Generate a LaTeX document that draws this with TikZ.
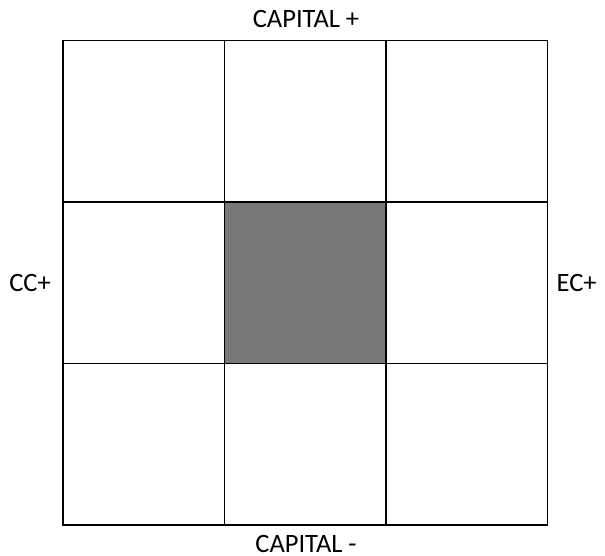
\documentclass[tikz,border=0pt]{standalone}
\usepackage{fontspec}
\setmainfont{Carlito}
\usetikzlibrary{positioning}

\begin{document}
\begin{tikzpicture}[
  x=1pt, y=-1pt,
  font=\fontsize{26.5}{30}\selectfont,
  cell/.style={draw, line width=1.2pt, minimum size=161.5pt, inner sep=0pt, outer sep=0pt},
  core/.style={cell, fill=black!53},
  lbl/.style={inner sep=0pt}
]
\useasboundingbox (0,0) rectangle (605,556);
\foreach \r in {1,2,3} {
  \foreach \c in {1,2,3} {
    \node[cell] (c-\r-\c) at ({63+161.5*(\c-0.5)},{40.5+161.5*(\r-0.5)}) {};
  }
}
\node[core] (mid) at (c-2-2) {};
\node[lbl] (capup) at (306,19) {CAPITAL +};
\node[lbl] (capdown) at (306,544) {CAPITAL -};
\node[lbl, left=12pt of c-2-1] (cc) {CC+};
\node[lbl, right=9pt of c-2-3] (ec) {EC+};
\end{tikzpicture}
\end{document}
